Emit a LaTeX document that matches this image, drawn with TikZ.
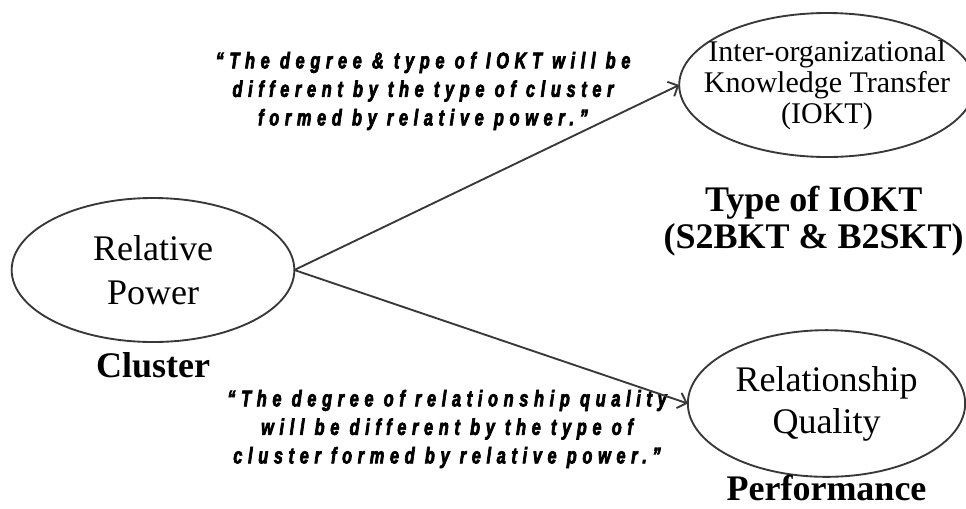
\documentclass[tikz,border=0pt]{standalone}
\usepackage{fontspec}
\setmainfont{Liberation Serif}
\newfontfamily\claimfont[FakeStretch=0.72, LetterSpace=25, FakeBold=3]{Liberation Sans}
\usetikzlibrary{positioning,arrows.meta,shapes.geometric}

\begin{document}
\begin{tikzpicture}[x=0.75pt, y=-0.75pt,
  every node/.style={inner sep=0pt, outer sep=0pt},
  oval/.style={draw=black!78, ellipse, line width=1.4pt, align=center, font=\fontsize{27}{33}\selectfont},
  tag/.style={font=\fontsize{27}{27.75}\selectfont\bfseries, align=center},
  claim/.style={font=\claimfont\fontsize{17}{21.4}\selectfont\bfseries\itshape, align=center},
  link/.style={-{Straight Barb[length=6pt,width=12pt]}, draw=black!78, line width=1.4pt}]
\useasboundingbox (0,0) rectangle (966,508);

\node[oval, minimum width=212pt, minimum height=108pt] (rp) at (153,270) {Relative\\Power};
\node[oval, minimum width=210pt, minimum height=108pt, inner xsep=-14pt,
  font=\fontsize{22.5}{23.4}\selectfont] (iokt) at (827,85) {Inter-organizational\\Knowledge Transfer\\(IOKT)};
\node[oval, minimum width=208pt, minimum height=110pt, font=\fontsize{27}{31.5}\selectfont] (rq) at (826.5,403.5) {Relationship\\Quality};

\node[tag, below=8pt of rp] (cluster) {Cluster};
\node[tag, below=22pt of iokt, xshift=-10pt] (kind) {Type of IOKT\\(S2BKT \& B2SKT)};
\node[tag, below=-1pt of rq] (perf) {Performance};

\node[claim] (claimtop) at (423,91) {“The degree \& type of IOKT will be\\different by the type of cluster\\formed by relative power.”};
\node[claim] (claimbot) at (447,429) {“The degree of relationship quality\\will be different by the type of\\cluster formed by relative power.”};

\draw[link] (rp.east) -- (iokt.west);
\draw[link] (rp.east) -- (rq.west);
\end{tikzpicture}
\end{document}
